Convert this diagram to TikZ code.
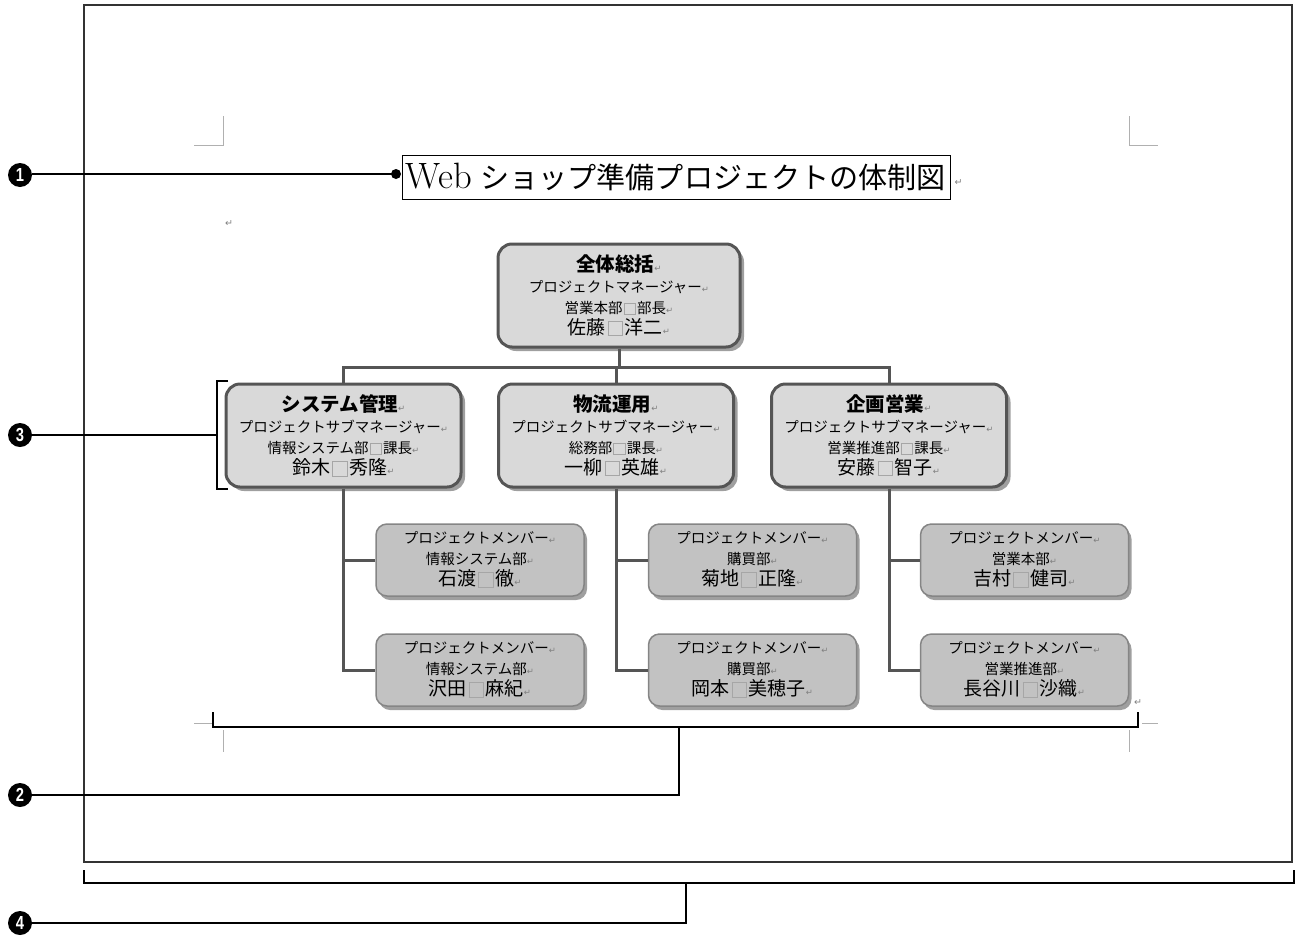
\documentclass[tikz,border=0pt]{standalone}
\usepackage{fontspec}
\usepackage{graphicx}
\newfontfamily\jp{Noto Sans CJK JP}
\newfontfamily\dv{DejaVu Sans}
\newfontfamily\lsans{Liberation Sans}
\usetikzlibrary{shadows}
\definecolor{boxline}{HTML}{555555}
\definecolor{boxfill}{HTML}{D9D9D9}
\definecolor{memfill}{HTML}{C2C2C2}
\definecolor{memline}{HTML}{858585}
\definecolor{marks}{HTML}{B0B0B0}
\newcommand\rt{{\color{gray}\dv\fontsize{8.5}{8.5}\selectfont ↵}}
\newcommand\sqm{\hbox to 1em{\hss{\color{gray!70}\fboxsep=0pt\fboxrule=1pt\raisebox{-0.06em}{\fbox{\rule{0pt}{0.72em}\hspace{0.72em}}}}\hss}}
\tikzset{
  leadbox/.style={draw=boxline, line width=3pt, fill=boxfill, rounded corners=14pt,
    minimum width=235pt, minimum height=103pt, align=center, inner sep=0pt,
    font=\jp\fontsize{14.5}{21}\selectfont,
    drop shadow={shadow xshift=4pt, shadow yshift=-4pt, fill=gray!75, opacity=1}},
  memberbox/.style={draw=memline, line width=1.5pt, fill=memfill, rounded corners=11pt,
    minimum width=208pt, minimum height=72pt, align=center, inner sep=0pt,
    font=\jp\fontsize{14.5}{21}\selectfont,
    drop shadow={shadow xshift=3pt, shadow yshift=-4pt, fill=gray!75, opacity=1}},
  conn/.style={draw=boxline, line width=3pt},
  lead/.style={draw=black, line width=1.3pt},
  numc/.style={circle, fill=black, text=white, inner sep=0pt, minimum size=24pt,
    font=\lsans\bfseries\fontsize{18}{18}\selectfont},
  cropmark/.style={draw=marks, line width=1pt},
  retmark/.style={inner sep=0pt, font=\dv\fontsize{9.5}{9.5}\selectfont, text=gray},
}
\newcommand\bigname[1]{{\fontsize{19}{21}\selectfont #1}}
\newcommand\bigbold[1]{{\bfseries\fontsize{19.5}{21}\selectfont #1}}
\newcommand\digit[1]{\scalebox{0.82}[1.05]{#1}}
\begin{document}
\begin{tikzpicture}[x=1pt,y=-1pt]
\useasboundingbox (0,0) rectangle (1295,937);
% page frame
\draw[draw=black!80, line width=1.5pt] (84,5) rectangle (1292,862);
% crop marks
\draw[cropmark] (223,116) -- (223,145) -- (194,145);
\draw[cropmark] (1129,116) -- (1129,145) -- (1158,145);
\draw[cropmark] (194,723) -- (212,723);
\draw[cropmark] (223,730) -- (223,752);
\draw[cropmark] (1142,723) -- (1158,723);
\draw[cropmark] (1129,730) -- (1129,752);

% title
\node[draw=black, line width=1pt, minimum width=548pt, minimum height=44pt, inner sep=0pt]
  (title) at (676,177) {\resizebox{540pt}{!}{\fontsize{34}{38}\selectfont Web\hspace{8pt}{\jp\fontsize{27}{30}\selectfont ショップ準備プロジェクトの体制図}}};
\node[retmark, anchor=west] (tr) at ([xshift=4pt,yshift=-6pt]title.east) {↵};
\node[retmark] (r0) at (229,224) {↵};
\node[retmark] (r9) at (1138,703) {↵};

% boxes
\node[leadbox, minimum width=242pt] (top) at (619,295.5)
  {\bigbold{全体総括}\rt\\プロジェクトマネージャー\rt\\営業本部\sqm 部長\rt\\\bigname{佐藤\sqm 洋二}\rt};
\node[leadbox] (sys) at (343.5,435.5)
  {\bigbold{システム管理}\rt\\プロジェクトサブマネージャー\rt\\情報システム部\sqm 課長\rt\\\bigname{鈴木\sqm 秀隆}\rt};
\node[leadbox] (but) at (616,435.5)
  {\bigbold{物流運用}\rt\\プロジェクトサブマネージャー\rt\\総務部\sqm 課長\rt\\\bigname{一柳\sqm 英雄}\rt};
\node[leadbox] (kik) at (889,435.5)
  {\bigbold{企画営業}\rt\\プロジェクトサブマネージャー\rt\\営業推進部\sqm 課長\rt\\\bigname{安藤\sqm 智子}\rt};

\node[memberbox] (m11) at (480,560) {プロジェクトメンバー\rt\\情報システム部\rt\\\bigname{石渡\sqm 徹}\rt};
\node[memberbox] (m12) at (480,670) {プロジェクトメンバー\rt\\情報システム部\rt\\\bigname{沢田\sqm 麻紀}\rt};
\node[memberbox] (m21) at (752.5,560) {プロジェクトメンバー\rt\\購買部\rt\\\bigname{菊地\sqm 正隆}\rt};
\node[memberbox] (m22) at (752.5,670) {プロジェクトメンバー\rt\\購買部\rt\\\bigname{岡本\sqm 美穂子}\rt};
\node[memberbox] (m31) at (1024.5,560) {プロジェクトメンバー\rt\\営業本部\rt\\\bigname{吉村\sqm 健司}\rt};
\node[memberbox] (m32) at (1024.5,670) {プロジェクトメンバー\rt\\営業推進部\rt\\\bigname{長谷川\sqm 沙織}\rt};

% connectors
\coordinate (bar) at (619,367);
\draw[conn] (top.south) -- (bar);
\draw[conn] (sys.north) |- (bar);
\draw[conn] (kik.north) |- (bar);
\draw[conn] (but.north) -- (but.north |- bar);
\draw[conn] (sys.south) |- (m12.west);
\draw[conn] (m11.west) -- (m11.west -| sys.south);
\draw[conn] (but.south) |- (m22.west);
\draw[conn] (m21.west) -- (m21.west -| but.south);
\draw[conn] (kik.south) |- (m32.west);
\draw[conn] (m31.west) -- (m31.west -| kik.south);

% callouts
\node[numc] (c1) at (20,175) {\digit{1}};
\node[numc] (c2) at (20,795) {\digit{2}};
\node[numc] (c3) at (20,435) {\digit{3}};
\node[numc] (c4) at (20,923) {\digit{4}};

\coordinate (d1) at (396,174);
\draw[lead] (c1.east |- d1) -- (d1);
\fill (d1) circle (5pt);

\coordinate (b3) at (217,435);
\draw[lead] (228,381) -- (217,381) -- (217,489) -- (228,489);
\draw[lead] (c3) -- (b3);

\coordinate (b2) at (679,727);
\draw[lead] (213,712) -- (213,727) -- (1138,727) -- (1138,712);
\draw[lead] (c2) -| (b2);

\coordinate (b4) at (686,883);
\draw[lead] (84,870) -- (84,883) -- (1294,883) -- (1294,870);
\draw[lead] (c4) -| (b4);
\end{tikzpicture}
\end{document}
